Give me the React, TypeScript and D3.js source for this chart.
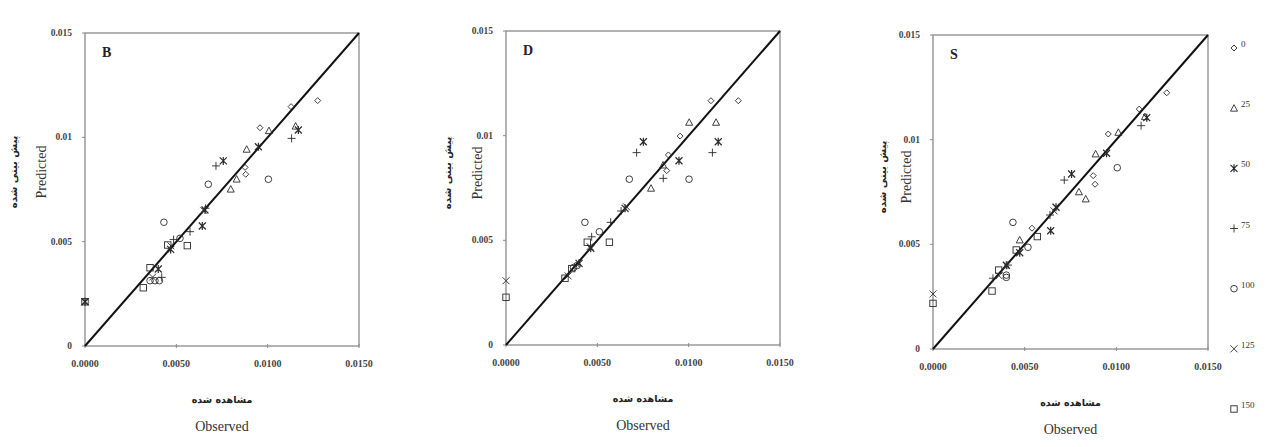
import React from 'react';
import * as d3 from 'd3';

// observed / predicted pairs
const B_0 = [[0.01128, 0.01147], [0.01274, 0.01176], [0.00958, 0.01046], [0.00876, 0.00856], [0.0088, 0.00823]];
const B_25 = [[0.01007, 0.01032], [0.01153, 0.01054], [0.00885, 0.00943], [0.0083, 0.008], [0.00798, 0.00752]];
const B_50 = [[0.01168, 0.01035], [0.00949, 0.00955], [0.00757, 0.00887], [0.00657, 0.00652], [0.00642, 0.00575], [0.00469, 0.00463], [0.00401, 0.00369], [0, 0.00212]];
const B_75 = [[0.01131, 0.00995], [0.00717, 0.00863], [0.0066, 0.0066], [0.00575, 0.00548], [0.00485, 0.0051], [0.0042, 0.00329]];
const B_100 = [[0.00675, 0.00775], [0.01004, 0.00799], [0.00432, 0.00593], [0.0052, 0.00516], [0.00356, 0.00313], [0.00383, 0.00313], [0.00407, 0.00313]];
const B_125 = [[0.0065, 0.0065], [0.0037, 0.0033], [0.0047, 0.0048], [0, 0.00212]];
const B_150 = [[0.00453, 0.00484], [0.0056, 0.00481], [0.00356, 0.00375], [0.00319, 0.00279], [0, 0.00212]];

const D_0 = [[0.01122, 0.01167], [0.01272, 0.01167], [0.00953, 0.00998], [0.00889, 0.00908], [0.0088, 0.00833]];
const D_25 = [[0.01003, 0.01064], [0.0115, 0.01064], [0.00794, 0.00749], [0.0086, 0.0086]];
const D_50 = [[0.00752, 0.00971], [0.01162, 0.00971], [0.00947, 0.0088], [0.00652, 0.00653], [0.00464, 0.00462], [0.004, 0.0039]];
const D_75 = [[0.00715, 0.00919], [0.0113, 0.00919], [0.00861, 0.00796], [0.00573, 0.00586], [0.00469, 0.00517], [0.0063, 0.0064]];
const D_100 = [[0.00675, 0.00792], [0.01002, 0.00792], [0.00432, 0.00586], [0.00511, 0.00541], [0.0037, 0.0037], [0.0039, 0.0038]];
const D_125 = [[0, 0.00307], [0.0066, 0.0066], [0.0034, 0.0033], [0.0046, 0.0047]];
const D_150 = [[0, 0.00228], [0.00445, 0.00491], [0.00566, 0.00491], [0.00323, 0.00319], [0.0036, 0.00365]];

const S_0 = [[0.01275, 0.01224], [0.01125, 0.01146], [0.00956, 0.01027], [0.00874, 0.00828], [0.00884, 0.00787], [0.0054, 0.00577]];
const S_25 = [[0.01156, 0.0111], [0.01011, 0.01035], [0.00887, 0.00932], [0.00796, 0.00751], [0.00833, 0.00717], [0.00473, 0.00521]];
const S_50 = [[0.01166, 0.01105], [0.00947, 0.00935], [0.00756, 0.00836], [0.00671, 0.00677], [0.00642, 0.00565], [0.00473, 0.0046], [0.004, 0.004]];
const S_75 = [[0.01135, 0.01067], [0.00716, 0.00807], [0.00638, 0.0064], [0.00409, 0.00401], [0.00327, 0.00338]];
const S_100 = [[0.01005, 0.00866], [0.00436, 0.00605], [0.00518, 0.00486], [0.004, 0.00353], [0.004, 0.00342]];
const S_125 = [[0, 0.00263], [0.0066, 0.0066], [0.0036, 0.0035]];
const S_150 = [[0, 0.00218], [0.00569, 0.00537], [0.00454, 0.00473], [0.00358, 0.00377], [0.00322, 0.00277]];

const seriesNames = ['0', '25', '50', '75', '100', '125', '150'];
const markerTypes = ['diamond', 'triangle', 'star', 'plus', 'circle', 'x', 'square'];
const xTickValues = [0, 0.005, 0.01, 0.015];
const xTickLabels = ['0.0000', '0.0050', '0.0100', '0.0150'];
const yTickValues = [0, 0.005, 0.01, 0.015];
const yTickLabels = ['0', '0.005', '0.01', '0.015'];
const domainMax = 0.015;

const panels = [
  { letter: 'B', left: 85, right: 359, top: 33, bottom: 346, faX: 13, enX: 42, titleY: 172, series: [B_0, B_25, B_50, B_75, B_100, B_125, B_150] },
  { letter: 'D', left: 506, right: 780, top: 31, bottom: 345, faX: 447, enX: 478, titleY: 173, series: [D_0, D_25, D_50, D_75, D_100, D_125, D_150] },
  { letter: 'S', left: 933, right: 1208, top: 35, bottom: 349, faX: 882, enX: 907, titleY: 177, series: [S_0, S_25, S_50, S_75, S_100, S_125, S_150] },
];

const ink = '#2a2a2a';
const serif = '"Liberation Serif", "DejaVu Serif", serif';
const arabic = '"DejaVu Sans", sans-serif';

function Marker({ type, x, y }: { type: string; x: number; y: number }) {
  const common = { fill: 'none', stroke: ink, strokeWidth: 0.9 };
  const t = `translate(${x},${y})`;
  switch (type) {
    case 'diamond':
      return <path transform={t} d="M0,-3L3,0L0,3L-3,0Z" {...common} />;
    case 'triangle':
      return <path transform={t} d="M0,-3.5L3.5,3L-3.5,3Z" {...common} />;
    case 'star':
      return <path transform={t} d="M-3.5,-3.5L3.5,3.5M-3.5,3.5L3.5,-3.5M0,-4V4" {...common} strokeWidth={1.2} />;
    case 'plus':
      return <path transform={t} d="M-4,0H4M0,-4V4" {...common} />;
    case 'circle':
      return <circle cx={x} cy={y} r={3.3} {...common} />;
    case 'x':
      return <path transform={t} d="M-3.5,-3.5L3.5,3.5M-3.5,3.5L3.5,-3.5" {...common} />;
    default:
      return <rect x={x - 3.2} y={y - 3.2} width={6.4} height={6.4} {...common} />;
  }
}

function Panel({ p }: { p: typeof panels[number] }) {
  const x = d3.scaleLinear().domain([0, domainMax]).range([p.left, p.right]);
  const y = d3.scaleLinear().domain([0, domainMax]).range([p.bottom, p.top]);
  const diag = d3.line<number>().x((v) => x(v)).y((v) => y(v))([0, domainMax]) || '';
  const cx = (p.left + p.right) / 2;
  return (
    <g>
      <rect x={p.left} y={p.top} width={p.right - p.left} height={p.bottom - p.top} fill="white" stroke="#8a8a8a" strokeWidth={1.3} />
      {xTickValues.map((v, i) => (
        <g key={'xt' + i}>
          <line x1={x(v)} x2={x(v)} y1={p.bottom - 2} y2={p.bottom + 2} stroke="#8a8a8a" />
          <text x={x(v)} y={p.bottom + 21} textAnchor="middle" fontFamily={serif} fontWeight="bold" fontSize={10} fill="#444">{xTickLabels[i]}</text>
        </g>
      ))}
      {yTickValues.map((v, i) => (
        <g key={'yt' + i}>
          <line x1={p.left - 3} x2={p.left} y1={y(v)} y2={y(v)} stroke="#8a8a8a" />
          <text x={p.left - 13} y={y(v) + 3} textAnchor="end" fontFamily={serif} fontWeight="bold" fontSize={9.5} fill="#444">{yTickLabels[i]}</text>
        </g>
      ))}
      <path d={diag} stroke="#111" strokeWidth={2} fill="none" />
      {p.series.map((pts, si) =>
        pts.map((d, k) => <Marker key={si + '-' + k} type={markerTypes[si]} x={x(d[0])} y={y(d[1])} />)
      )}
      <text x={p.left + 17} y={p.top + 24} fontFamily={serif} fontWeight="bold" fontSize={14} fill="#222">{p.letter}</text>
      <text x={cx} y={p.bottom + 57} textAnchor="middle" fontFamily={arabic} fontWeight="bold" fontSize={9.5} fill="#222" direction="rtl">مشاهده شده</text>
      <text x={cx} y={p.bottom + 85} textAnchor="middle" fontFamily={serif} fontSize={14} fill="#333">Observed</text>
      <text transform={`translate(${p.faX + 4},${p.titleY}) rotate(-90)`} textAnchor="middle" fontFamily={arabic} fontWeight="bold" fontSize={10} fill="#222" direction="rtl">پیش بینی شده</text>
      <text transform={`translate(${p.enX + 4},${p.titleY}) rotate(-90)`} textAnchor="middle" fontFamily={serif} fontSize={14} fill="#333">Predicted</text>
    </g>
  );
}

function Legend() {
  const ly = d3.scalePoint<string>().domain(seriesNames).range([48, 409]);
  return (
    <g>
      {seriesNames.map((name, i) => (
        <g key={name}>
          <Marker type={markerTypes[i]} x={1234} y={ly(name) as number} />
          <text x={1241} y={(ly(name) as number) - 1} fontFamily={serif} fontSize={9} fill="#333">{name}</text>
        </g>
      ))}
    </g>
  );
}

export default function App() {
  return (
    <svg width={1266} height={447} style={{ position: 'absolute', left: 0, top: 0, background: 'white' }}>
      <rect width={1266} height={447} fill="white" />
      {panels.map((p) => <Panel key={p.letter} p={p} />)}
      <Legend />
    </svg>
  );
}
